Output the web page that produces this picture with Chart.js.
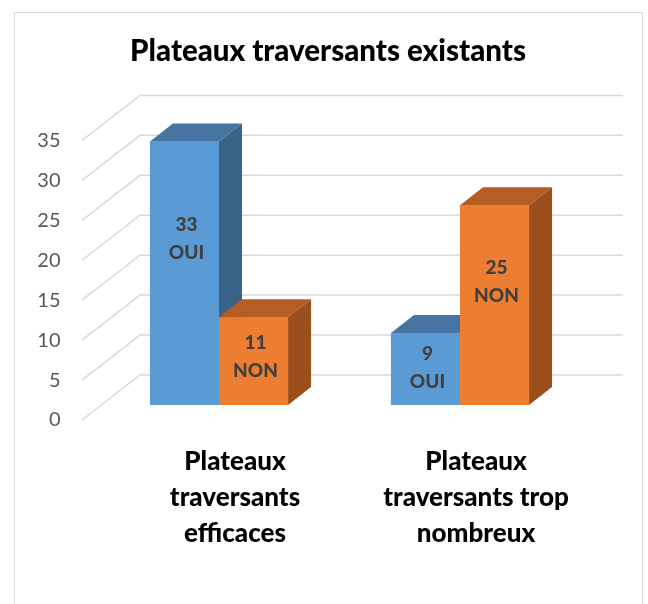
<!DOCTYPE html>
<html>
<head>
<meta charset="utf-8">
<script src="https://cdn.jsdelivr.net/npm/chart.js@4.4.1/dist/chart.umd.min.js"></script>
<style>
  html, body { margin: 0; padding: 0; background: #fff; }
  canvas { display: block; }
</style>
</head>
<body>
<canvas id="chart" width="648" height="604"></canvas>
<script>
// données
const categories = [
  ["Plateaux", "traversants", "efficaces"],
  ["Plateaux", "traversants trop", "nombreux"]
];
const seriesNames = ["OUI", "NON"];
const ouiValues = [33, 9];
const nonValues = [11, 25];
const yMin = 0;
const yMax = 35;
const yStep = 5;

const FONT = "Lato, 'Open Sans', sans-serif";
const frontColors = ["#5B9BD5", "#ED7D31"];
const topColors = ["#4675A1", "#B65D23"];
const sideColors = ["#3A6388", "#9A4F1D"];
const depth = { dx: 23, dy: -18 };

// cadre + murs 3D + faces des barres
const bars3d = {
  id: "bars3d",
  beforeDraw(chart) {
    const ctx = chart.ctx;
    ctx.save();
    ctx.strokeStyle = "#d9d9d9";
    ctx.lineWidth = 1;
    ctx.strokeRect(14.5, 12.5, 628, 640);
    ctx.restore();
  },
  beforeDatasetsDraw(chart) {
    const { ctx, chartArea, scales } = chart;
    const y = scales.y;
    ctx.save();
    ctx.strokeStyle = "#d9d9d9";
    ctx.lineWidth = 1.5;
    y.ticks.forEach((t) => {
      const py = y.getPixelForValue(t.value);
      ctx.beginPath();
      ctx.moveTo(chartArea.left - 16.5, py + 15);
      ctx.lineTo(chartArea.left + 41.5, py - 30);
      ctx.lineTo(chartArea.right + 42.5, py - 30);
      ctx.stroke();
    });
    ctx.restore();
  },
  afterDatasetsDraw(chart) {
    const ctx = chart.ctx;
    ctx.save();
    categories.forEach((_, i) => {
      chart.data.datasets.forEach((ds, d) => {
        const bar = chart.getDatasetMeta(d).data[i];
        const { x, y, base, width } = bar.getProps(["x", "y", "base", "width"], true);
        const x0 = x - width / 2, x1 = x + width / 2;
        // dessus
        ctx.fillStyle = topColors[d];
        ctx.beginPath();
        ctx.moveTo(x0, y);
        ctx.lineTo(x1, y);
        ctx.lineTo(x1 + depth.dx, y + depth.dy);
        ctx.lineTo(x0 + depth.dx, y + depth.dy);
        ctx.closePath();
        ctx.fill();
        // côté
        ctx.fillStyle = sideColors[d];
        ctx.beginPath();
        ctx.moveTo(x1, y);
        ctx.lineTo(x1 + depth.dx, y + depth.dy);
        ctx.lineTo(x1 + depth.dx, base + depth.dy);
        ctx.lineTo(x1, base);
        ctx.closePath();
        ctx.fill();
        // face avant
        ctx.fillStyle = frontColors[d];
        ctx.fillRect(x0, y, width, base - y);
      });
    });
    // étiquettes
    ctx.fillStyle = "#404040";
    ctx.font = "900 19px " + FONT;
    ctx.textAlign = "center";
    ctx.textBaseline = "middle";
    chart.data.datasets.forEach((ds, d) => {
      chart.getDatasetMeta(d).data.forEach((bar, i) => {
        const { x, y, base } = bar.getProps(["x", "y", "base"], true);
        const cy = y + 0.33 * (base - y) + 11;
        ctx.fillText(String(ds.data[i]), x + 2, cy - 14);
        ctx.fillText(ds.label, x + 2, cy + 14);
      });
    });
    ctx.restore();
  }
};

new Chart(document.getElementById("chart"), {
  type: "bar",
  data: {
    labels: categories,
    datasets: [
      { label: seriesNames[0], data: ouiValues, backgroundColor: frontColors[0] },
      { label: seriesNames[1], data: nonValues, backgroundColor: frontColors[1] }
    ]
  },
  options: {
    responsive: false,
    animation: false,
    layout: { padding: { left: 8, right: 0, top: 12, bottom: 52 } },
    datasets: { bar: { barPercentage: 1, categoryPercentage: 0.573 } },
    scales: {
      x: {
        grid: { display: false, drawTicks: false },
        border: { display: false },
        afterFit: (axis) => { axis.height = 147; },
        ticks: {
          color: "#000",
          font: { family: FONT, size: 26, weight: "900", lineHeight: 1.4 },
          padding: 38,
          labelOffset: 16,
          maxRotation: 0,
          autoSkip: false
        }
      },
      y: {
        min: yMin,
        max: yMax,
        grid: { display: false, drawTicks: false },
        border: { display: false },
        afterFit: (axis) => { axis.width = 90.5; },
        ticks: {
          stepSize: yStep,
          color: "#595959",
          font: { family: FONT, size: 20 },
          padding: 38,
          labelOffset: 15
        }
      },
      // axe vide à droite : réserve la marge sans décaler le titre
      yRight: {
        position: "right",
        grid: { display: false, drawTicks: false },
        border: { display: false },
        ticks: { display: false },
        afterFit: (axis) => { axis.width = 67.5; }
      }
    },
    plugins: {
      legend: { display: false },
      tooltip: { enabled: false },
      title: {
        display: true,
        text: "Plateaux traversants existants",
        color: "#000",
        font: { family: FONT, size: 29.5, weight: "900", lineHeight: 1.2 },
        padding: { top: 22, bottom: 56 }
      }
    }
  },
  plugins: [bars3d]
});
</script>
</body>
</html>
